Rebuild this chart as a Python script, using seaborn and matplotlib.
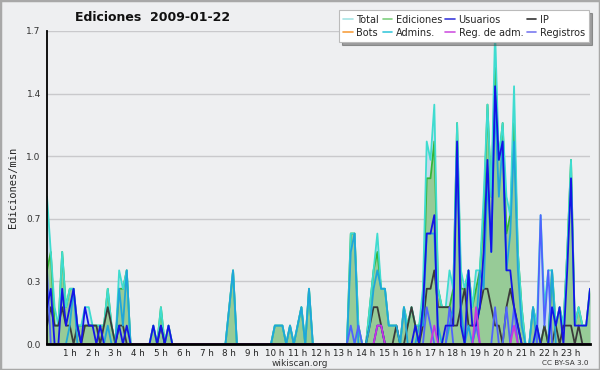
import numpy as np
import pandas as pd
import matplotlib
matplotlib.use("Agg")
import matplotlib.pyplot as plt
import seaborn as sns
from matplotlib.lines import Line2D
from matplotlib.patches import Rectangle

# ---- data: edits per minute, 10-minute bins, 2009-01-22 ----
hour_labels = [""] + [f"{h} h" for h in range(1, 24)]

total = [
    0.8, 0.5, 0.2, 0.1, 0.5, 0.2, 0.3, 0.3, 0.1, 0.1, 0.2, 0.2,
    0.1, 0.1, 0.1, 0.1, 0.3, 0.1, 0.0, 0.4, 0.3, 0.4, 0.0, 0.0,
    0.0, 0.0, 0.0, 0.0, 0.1, 0.0, 0.2, 0.0, 0.1, 0.0, 0.0, 0.0,
    0.0, 0.0, 0.0, 0.0, 0.0, 0.0, 0.0, 0.0, 0.0, 0.0, 0.0, 0.0,
    0.2, 0.4, 0.0, 0.0, 0.0, 0.0, 0.0, 0.0, 0.0, 0.0, 0.0, 0.0,
    0.1, 0.1, 0.1, 0.0, 0.1, 0.0, 0.1, 0.2, 0.0, 0.3, 0.0, 0.0,
    0.0, 0.0, 0.0, 0.0, 0.0, 0.0, 0.0, 0.0, 0.6, 0.6, 0.1, 0.0,
    0.0, 0.2, 0.4, 0.6, 0.3, 0.3, 0.1, 0.1, 0.1, 0.0, 0.2, 0.1,
    0.2, 0.1, 0.1, 0.3, 1.1, 1.0, 1.3, 0.3, 0.2, 0.2, 0.4, 0.3,
    1.2, 0.4, 0.3, 0.4, 0.2, 0.4, 0.4, 0.8, 1.3, 0.8, 1.7, 1.0,
    1.2, 0.8, 0.7, 1.4, 0.5, 0.2, 0.0, 0.0, 0.2, 0.1, 0.7, 0.2,
    0.4, 0.4, 0.1, 0.2, 0.1, 0.5, 1.0, 0.1, 0.2, 0.1, 0.1, 0.3,
]
ediciones = [
    0.4, 0.5, 0.1, 0.1, 0.5, 0.2, 0.3, 0.3, 0.1, 0.1, 0.1, 0.1,
    0.1, 0.1, 0.1, 0.1, 0.3, 0.1, 0.0, 0.3, 0.3, 0.4, 0.0, 0.0,
    0.0, 0.0, 0.0, 0.0, 0.1, 0.0, 0.2, 0.0, 0.1, 0.0, 0.0, 0.0,
    0.0, 0.0, 0.0, 0.0, 0.0, 0.0, 0.0, 0.0, 0.0, 0.0, 0.0, 0.0,
    0.2, 0.4, 0.0, 0.0, 0.0, 0.0, 0.0, 0.0, 0.0, 0.0, 0.0, 0.0,
    0.1, 0.1, 0.1, 0.0, 0.1, 0.0, 0.1, 0.2, 0.0, 0.3, 0.0, 0.0,
    0.0, 0.0, 0.0, 0.0, 0.0, 0.0, 0.0, 0.0, 0.6, 0.6, 0.1, 0.0,
    0.0, 0.2, 0.4, 0.5, 0.3, 0.3, 0.1, 0.1, 0.1, 0.0, 0.2, 0.1,
    0.2, 0.1, 0.1, 0.2, 0.9, 0.9, 1.1, 0.3, 0.2, 0.2, 0.2, 0.3,
    1.2, 0.3, 0.3, 0.4, 0.2, 0.3, 0.4, 0.7, 1.3, 0.8, 1.5, 1.0,
    1.2, 0.6, 0.7, 1.2, 0.5, 0.2, 0.0, 0.0, 0.2, 0.1, 0.0, 0.1,
    0.0, 0.4, 0.1, 0.2, 0.1, 0.5, 1.0, 0.1, 0.2, 0.1, 0.1, 0.3,
]
usuarios = [
    0.2, 0.3, 0.0, 0.0, 0.3, 0.1, 0.2, 0.3, 0.1, 0.0, 0.2, 0.1,
    0.1, 0.0, 0.1, 0.0, 0.0, 0.0, 0.0, 0.1, 0.0, 0.1, 0.0, 0.0,
    0.0, 0.0, 0.0, 0.0, 0.1, 0.0, 0.1, 0.0, 0.1, 0.0, 0.0, 0.0,
    0.0, 0.0, 0.0, 0.0, 0.0, 0.0, 0.0, 0.0, 0.0, 0.0, 0.0, 0.0,
    0.0, 0.0, 0.0, 0.0, 0.0, 0.0, 0.0, 0.0, 0.0, 0.0, 0.0, 0.0,
    0.0, 0.0, 0.0, 0.0, 0.0, 0.0, 0.0, 0.0, 0.0, 0.0, 0.0, 0.0,
    0.0, 0.0, 0.0, 0.0, 0.0, 0.0, 0.0, 0.0, 0.0, 0.0, 0.0, 0.0,
    0.0, 0.0, 0.0, 0.1, 0.1, 0.0, 0.0, 0.0, 0.0, 0.0, 0.0, 0.0,
    0.0, 0.1, 0.0, 0.2, 0.6, 0.6, 0.7, 0.0, 0.0, 0.1, 0.1, 0.1,
    1.1, 0.1, 0.0, 0.4, 0.1, 0.1, 0.2, 0.5, 1.0, 0.5, 1.4, 1.0,
    1.1, 0.4, 0.4, 0.2, 0.1, 0.0, 0.0, 0.0, 0.0, 0.1, 0.0, 0.0,
    0.0, 0.2, 0.1, 0.2, 0.0, 0.4, 0.9, 0.1, 0.1, 0.1, 0.1, 0.3,
]
ip = [
    0.1, 0.2, 0.1, 0.1, 0.2, 0.1, 0.1, 0.0, 0.1, 0.0, 0.1, 0.1,
    0.1, 0.1, 0.0, 0.1, 0.2, 0.1, 0.0, 0.1, 0.1, 0.0, 0.0, 0.0,
    0.0, 0.0, 0.0, 0.0, 0.0, 0.0, 0.1, 0.0, 0.0, 0.0, 0.0, 0.0,
    0.0, 0.0, 0.0, 0.0, 0.0, 0.0, 0.0, 0.0, 0.0, 0.0, 0.0, 0.0,
    0.0, 0.0, 0.0, 0.0, 0.0, 0.0, 0.0, 0.0, 0.0, 0.0, 0.0, 0.0,
    0.0, 0.0, 0.0, 0.0, 0.0, 0.0, 0.0, 0.0, 0.0, 0.0, 0.0, 0.0,
    0.0, 0.0, 0.0, 0.0, 0.0, 0.0, 0.0, 0.0, 0.0, 0.0, 0.0, 0.0,
    0.0, 0.1, 0.2, 0.2, 0.1, 0.0, 0.0, 0.0, 0.1, 0.0, 0.0, 0.1,
    0.2, 0.1, 0.0, 0.1, 0.3, 0.3, 0.4, 0.2, 0.2, 0.2, 0.2, 0.1,
    0.1, 0.2, 0.3, 0.1, 0.1, 0.1, 0.2, 0.3, 0.3, 0.2, 0.1, 0.1,
    0.0, 0.2, 0.3, 0.2, 0.1, 0.0, 0.0, 0.0, 0.0, 0.0, 0.0, 0.1,
    0.0, 0.0, 0.1, 0.0, 0.1, 0.1, 0.1, 0.0, 0.1, 0.0, 0.0, 0.0,
]
bots = [
    0.0, 0.0, 0.0, 0.0, 0.0, 0.0, 0.0, 0.0, 0.0, 0.0, 0.0, 0.0,
    0.0, 0.0, 0.0, 0.0, 0.0, 0.0, 0.0, 0.0, 0.0, 0.0, 0.0, 0.0,
    0.0, 0.0, 0.0, 0.0, 0.0, 0.0, 0.0, 0.0, 0.0, 0.0, 0.0, 0.0,
    0.0, 0.0, 0.0, 0.0, 0.0, 0.0, 0.0, 0.0, 0.0, 0.0, 0.0, 0.0,
    0.0, 0.0, 0.0, 0.0, 0.0, 0.0, 0.0, 0.0, 0.0, 0.0, 0.0, 0.0,
    0.0, 0.0, 0.0, 0.0, 0.0, 0.0, 0.0, 0.0, 0.0, 0.0, 0.0, 0.0,
    0.0, 0.0, 0.0, 0.0, 0.0, 0.0, 0.0, 0.0, 0.0, 0.0, 0.0, 0.0,
    0.0, 0.0, 0.0, 0.0, 0.0, 0.0, 0.0, 0.0, 0.0, 0.0, 0.0, 0.0,
    0.0, 0.0, 0.0, 0.0, 0.0, 0.0, 0.0, 0.0, 0.0, 0.0, 0.0, 0.0,
    0.0, 0.0, 0.0, 0.0, 0.0, 0.0, 0.0, 0.0, 0.0, 0.0, 0.0, 0.0,
    0.0, 0.0, 0.0, 0.0, 0.0, 0.0, 0.0, 0.0, 0.0, 0.0, 0.0, 0.0,
    0.0, 0.0, 0.0, 0.0, 0.0, 0.0, 0.0, 0.0, 0.0, 0.0, 0.0, 0.0,
]
admins = [
    0.0, 0.0, 0.0, 0.0, 0.0, 0.0, 0.1, 0.3, 0.0, 0.0, 0.0, 0.0,
    0.0, 0.0, 0.0, 0.0, 0.1, 0.0, 0.0, 0.3, 0.1, 0.4, 0.0, 0.0,
    0.0, 0.0, 0.0, 0.0, 0.0, 0.0, 0.0, 0.0, 0.0, 0.0, 0.0, 0.0,
    0.0, 0.0, 0.0, 0.0, 0.0, 0.0, 0.0, 0.0, 0.0, 0.0, 0.0, 0.0,
    0.2, 0.4, 0.0, 0.0, 0.0, 0.0, 0.0, 0.0, 0.0, 0.0, 0.0, 0.0,
    0.1, 0.1, 0.1, 0.0, 0.1, 0.0, 0.1, 0.2, 0.0, 0.3, 0.0, 0.0,
    0.0, 0.0, 0.0, 0.0, 0.0, 0.0, 0.0, 0.0, 0.5, 0.6, 0.0, 0.0,
    0.0, 0.1, 0.3, 0.4, 0.3, 0.3, 0.1, 0.1, 0.1, 0.0, 0.2, 0.0,
    0.0, 0.0, 0.1, 0.1, 0.6, 0.6, 0.6, 0.1, 0.0, 0.0, 0.1, 0.2,
    1.1, 0.2, 0.0, 0.1, 0.0, 0.1, 0.4, 0.3, 0.9, 0.5, 1.3, 0.8,
    1.1, 0.4, 0.6, 1.1, 0.4, 0.1, 0.0, 0.0, 0.2, 0.0, 0.0, 0.0,
    0.0, 0.4, 0.0, 0.0, 0.0, 0.0, 0.0, 0.0, 0.0, 0.0, 0.0, 0.0,
]
reg_adm = [
    0.0, 0.0, 0.0, 0.0, 0.0, 0.0, 0.0, 0.0, 0.0, 0.0, 0.0, 0.0,
    0.0, 0.0, 0.0, 0.0, 0.0, 0.0, 0.0, 0.0, 0.0, 0.0, 0.0, 0.0,
    0.0, 0.0, 0.0, 0.0, 0.0, 0.0, 0.0, 0.0, 0.0, 0.0, 0.0, 0.0,
    0.0, 0.0, 0.0, 0.0, 0.0, 0.0, 0.0, 0.0, 0.0, 0.0, 0.0, 0.0,
    0.0, 0.0, 0.0, 0.0, 0.0, 0.0, 0.0, 0.0, 0.0, 0.0, 0.0, 0.0,
    0.0, 0.0, 0.0, 0.0, 0.0, 0.0, 0.0, 0.0, 0.0, 0.0, 0.0, 0.0,
    0.0, 0.0, 0.0, 0.0, 0.0, 0.0, 0.0, 0.0, 0.0, 0.0, 0.0, 0.0,
    0.0, 0.0, 0.0, 0.1, 0.1, 0.0, 0.0, 0.0, 0.0, 0.0, 0.0, 0.0,
    0.0, 0.0, 0.0, 0.0, 0.0, 0.0, 0.1, 0.0, 0.0, 0.0, 0.0, 0.0,
    0.0, 0.0, 0.0, 0.0, 0.0, 0.2, 0.0, 0.0, 0.0, 0.0, 0.0, 0.0,
    0.0, 0.0, 0.0, 0.1, 0.0, 0.0, 0.0, 0.0, 0.0, 0.0, 0.0, 0.0,
    0.0, 0.0, 0.0, 0.0, 0.0, 0.0, 0.0, 0.0, 0.0, 0.0, 0.0, 0.0,
]
registros = [
    0.4, 0.0, 0.0, 0.0, 0.0, 0.0, 0.0, 0.0, 0.0, 0.0, 0.0, 0.0,
    0.0, 0.0, 0.0, 0.0, 0.0, 0.0, 0.0, 0.0, 0.0, 0.0, 0.0, 0.0,
    0.0, 0.0, 0.0, 0.0, 0.0, 0.0, 0.0, 0.0, 0.0, 0.0, 0.0, 0.0,
    0.0, 0.0, 0.0, 0.0, 0.0, 0.0, 0.0, 0.0, 0.0, 0.0, 0.0, 0.0,
    0.0, 0.0, 0.0, 0.0, 0.0, 0.0, 0.0, 0.0, 0.0, 0.0, 0.0, 0.0,
    0.0, 0.0, 0.0, 0.0, 0.0, 0.0, 0.0, 0.0, 0.0, 0.0, 0.0, 0.0,
    0.0, 0.0, 0.0, 0.0, 0.0, 0.0, 0.0, 0.0, 0.1, 0.0, 0.1, 0.0,
    0.0, 0.0, 0.0, 0.0, 0.0, 0.0, 0.0, 0.0, 0.0, 0.0, 0.0, 0.0,
    0.0, 0.0, 0.0, 0.0, 0.2, 0.1, 0.0, 0.0, 0.0, 0.0, 0.2, 0.0,
    0.0, 0.0, 0.0, 0.0, 0.0, 0.1, 0.0, 0.0, 0.0, 0.0, 0.2, 0.0,
    0.0, 0.2, 0.0, 0.2, 0.0, 0.0, 0.0, 0.0, 0.0, 0.0, 0.7, 0.1,
    0.4, 0.0, 0.0, 0.0, 0.0, 0.0, 0.0, 0.0, 0.0, 0.0, 0.0, 0.0,
]

series_names = ["Total", "Ediciones", "Usuarios", "IP", "Bots", "Admins.",
                "Reg. de adm.", "Registros"]
colors = {
    "Total": "#3fdcd0",
    "Ediciones": "#35b535",
    "Usuarios": "#1414e6",
    "IP": "#3a3a3a",
    "Bots": "#ff9a2a",
    "Admins.": "#1fa6da",
    "Reg. de adm.": "#c935de",
    "Registros": "#4f62ff",
}
legend_colors = {
    "Total": "#a6e4e4", "Ediciones": "#7fd07f", "Usuarios": "#3b3bdc",
    "IP": "#333333", "Bots": "#f7a040", "Admins.": "#3cc8dc",
    "Reg. de adm.": "#d055e0", "Registros": "#7a7af0",
}

n = len(total)
t = np.arange(n) / 6.0  # hours

values = {"Total": total, "Ediciones": ediciones, "Usuarios": usuarios,
          "IP": ip, "Bots": bots, "Admins.": admins,
          "Reg. de adm.": reg_adm, "Registros": registros}
long = pd.concat([pd.DataFrame({"t": t, "v": values[s], "serie": s})
                  for s in series_names], ignore_index=True)

# ---- style ----
sns.set_style("white")
plt.rcParams["font.family"] = ["DejaVu Sans"]
bg = "#eeeff1"

fig = plt.figure(figsize=(6.0, 3.7), dpi=100, facecolor=bg)
ax = fig.add_axes([47 / 600, 26 / 370, 543 / 600, 313 / 370])
ax.set_facecolor(bg)

ymax = 1.7
ax.set_xlim(0, t[-1])
ax.set_ylim(0, ymax)

# grid
yt = np.linspace(0, ymax, 6)
for y in yt[1:]:
    ax.axhline(y, color="#c9c9cc", lw=1.0, zorder=0)

# fills
ax.fill_between(t, total, 0, color="#c6dcec", lw=0, zorder=1)
ax.fill_between(t, ediciones, 0, color="#97cb97", lw=0, zorder=1.1)

# lines
draw_order = ["Bots", "Ediciones", "Total", "IP", "Admins.", "Registros",
              "Usuarios", "Reg. de adm."]
sns.lineplot(data=long, x="t", y="v", hue="serie", hue_order=draw_order,
             palette=colors, linewidth=1.3, legend=False, ax=ax,
             estimator=None, sort=False, zorder=2)

# axes styling
for s in ["top", "right"]:
    ax.spines[s].set_visible(False)
ax.spines["left"].set_color("black")
ax.spines["left"].set_linewidth(1.3)
ax.spines["bottom"].set_color("black")
ax.spines["bottom"].set_linewidth(2.0)
ax.spines["bottom"].set_zorder(5)

ax.set_yticks(yt)
ax.set_yticklabels([f"{v:.1f}" for v in yt], fontsize=6.5, color="#333333")
ax.set_yticks((yt[:-1] + yt[1:]) / 2, minor=True)
ax.set_xticks(np.arange(0, 24))
ax.set_xticklabels(hour_labels, fontsize=6.3, color="#222222")
ax.set_xticks(np.arange(0, n) / 6.0, minor=True)
ax.tick_params(axis="both", which="both", direction="out", color="black",
               width=1.0, length=3, pad=0.5)
ax.tick_params(axis="y", which="both", length=4)
ax.set_xlabel("")
ax.set_ylabel("Ediciones/min", fontsize=7.5, family="DejaVu Sans Mono",
              labelpad=6)

# title and footer
fig.text(0.255, 0.952, "Ediciones  2009-01-22", fontsize=9,
         fontweight="bold", ha="center", va="center", color="#111111")
fig.text(0.5, 0.017, "wikiscan.org", fontsize=6.5, ha="center",
         va="center", color="#333333")
fig.text(0.942, 0.020, "CC BY-SA 3.0", fontsize=5.2, ha="center",
         va="center", color="#333333")

# legend
legend_order = ["Total", "Bots", "Ediciones", "Admins.", "Usuarios",
                "Reg. de adm.", "IP", "Registros"]
handles = [Line2D([0], [0], color=legend_colors[s], lw=1.2)
           for s in legend_order]
leg = fig.legend(handles, legend_order, loc="upper right",
                 bbox_to_anchor=(0.982, 0.972), ncol=4, fontsize=7,
                 frameon=True, fancybox=False, shadow=True,
                 handlelength=1.0, handletextpad=0.35, columnspacing=0.35,
                 borderpad=0.45, labelspacing=0.3, borderaxespad=0)
leg.get_frame().set_facecolor("white")
leg.get_frame().set_edgecolor("#bbbbbb")
leg.get_frame().set_linewidth(0.8)
leg.set_zorder(10)

# outer border
fig.patches.append(Rectangle((0, 0), 1, 1, transform=fig.transFigure,
                             fill=False, edgecolor="#a8a8a8", lw=2.5))

fig.savefig("out.png", dpi=100, facecolor=bg)
